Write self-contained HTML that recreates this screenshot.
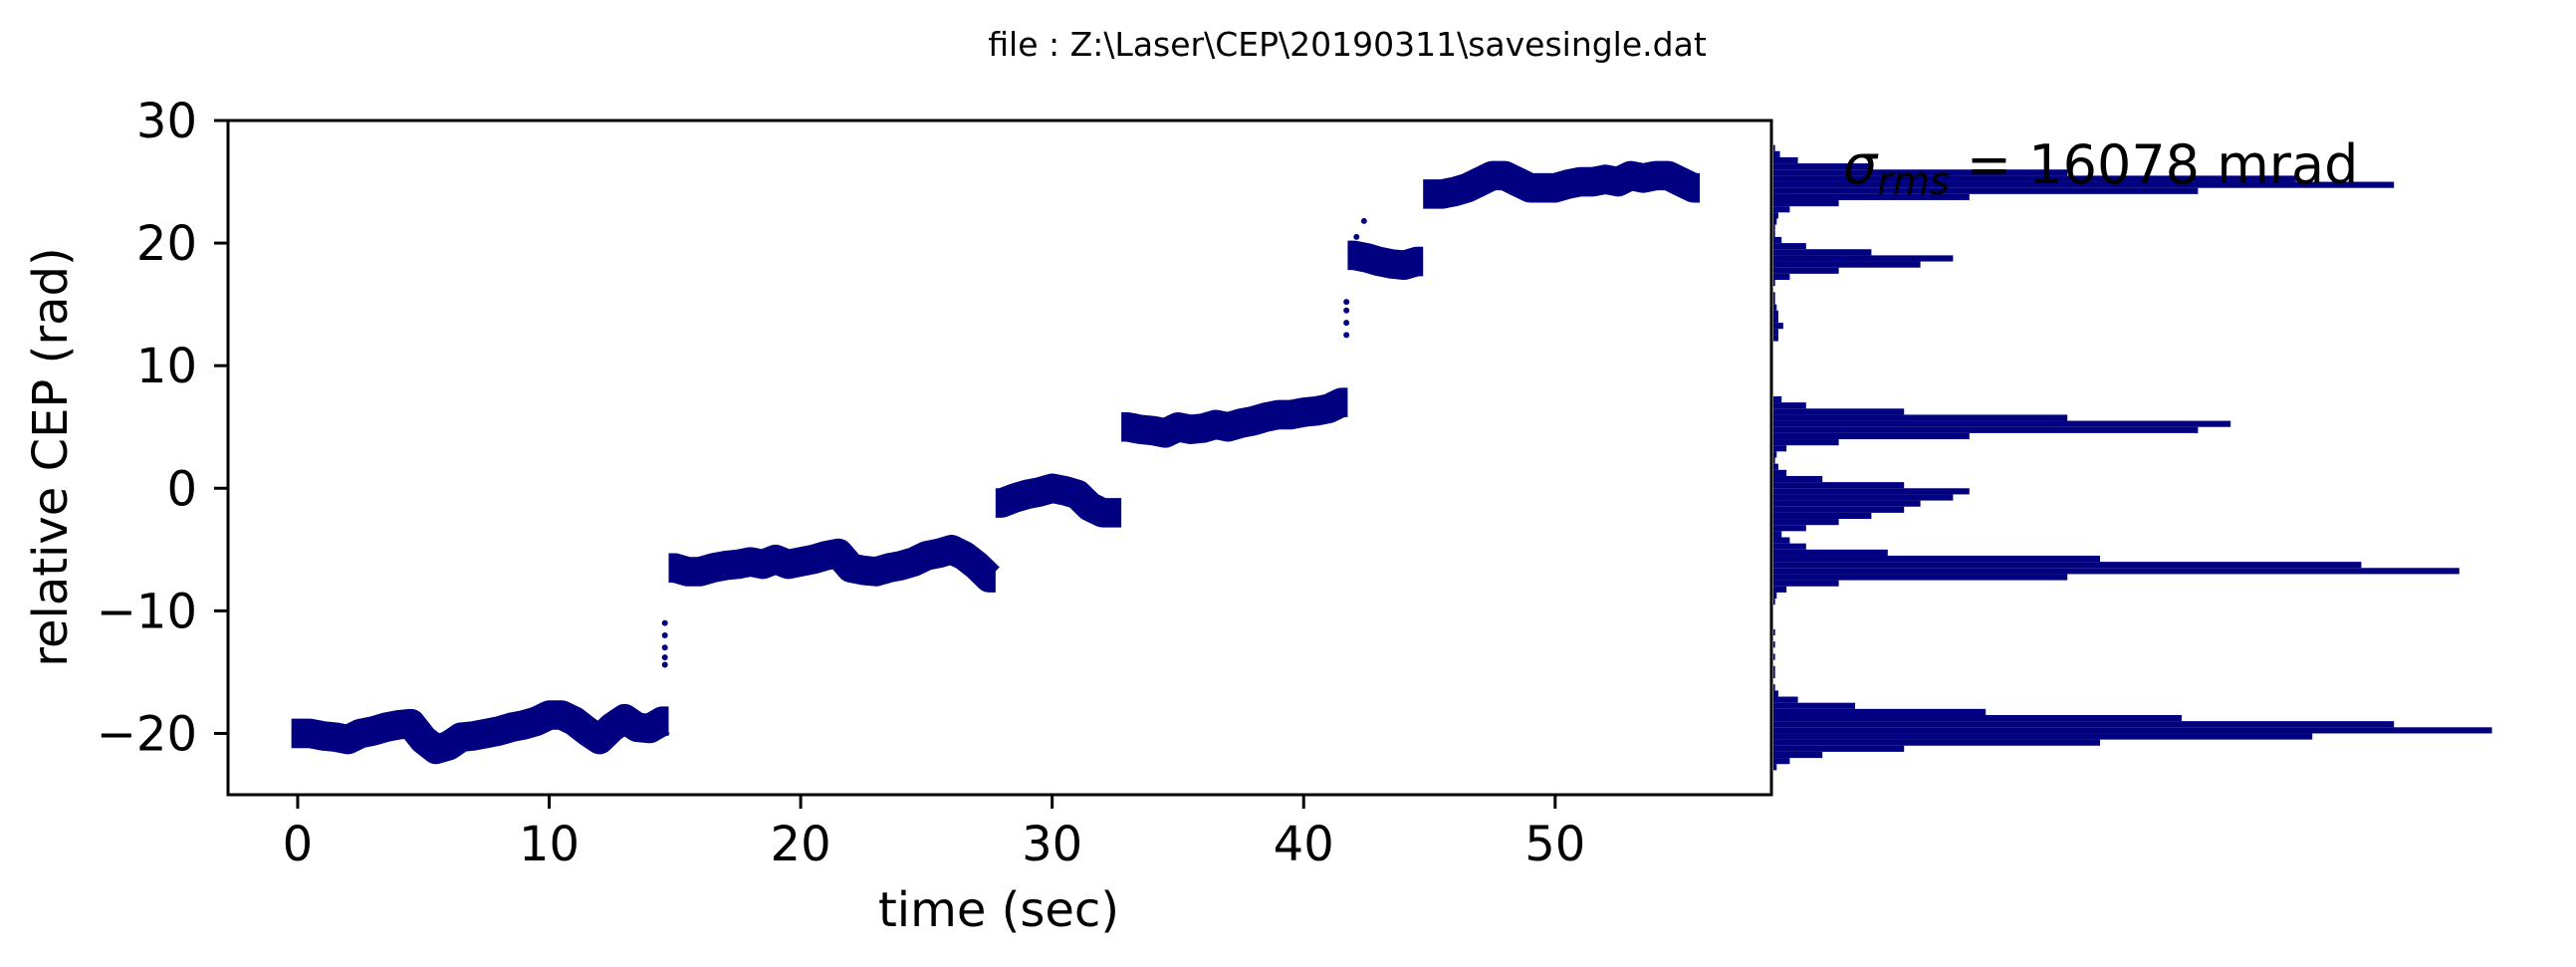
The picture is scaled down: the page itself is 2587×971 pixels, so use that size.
<!DOCTYPE html>
<html><head><meta charset="utf-8"><style>
html,body{margin:0;padding:0;background:#fff;}
svg{display:block;font-family:"DejaVu Sans","Liberation Sans",sans-serif;}
</style></head><body>
<svg id="chart" width="2587" height="971" viewBox="0 0 2587 971" xmlns="http://www.w3.org/2000/svg">
<rect width="2587" height="971" fill="#fff"/>
<text x="1353" y="56" font-size="33" text-anchor="middle">file : Z:\Laser\CEP\20190311\savesingle.dat</text>
<g id="marks"></g>
<g id="hist"></g>
<rect x="229" y="121" width="1550" height="677" fill="none" stroke="#000" stroke-width="3"/>
<g id="axes"></g>
<text x="1003" y="930" font-size="48" text-anchor="middle">time (sec)</text>
<text transform="translate(67,459) rotate(-90)" font-size="48" text-anchor="middle">relative CEP (rad)</text>
<text x="1851" y="184" font-size="54"><tspan font-style="italic">σ</tspan><tspan font-style="italic" font-size="38" dy="11">rms</tspan><tspan dy="-11"> = 16078 mrad</tspan></text>
</svg>
<script>
const sampleStep = 0.5;
const cepValues = [
-20,-20,-20.2,-20.3,-20.5,-20,-19.8,-19.5,-19.3,-19.2,-20.5,-21.3,-21,-20.3,-20.2,-20,-19.8,-19.5,-19.3,-19,-18.5,-18.5,-19,-19.8,-20.5,-19.5,-18.8,-19.5,-19.6,-19,
-6.5,-6.8,-6.8,-6.5,-6.3,-6.2,-6,-6.2,-5.8,-6.2,-6,-5.8,-5.5,-5.3,-6.5,-6.7,-6.8,-6.5,-6.3,-6,-5.5,-5.3,-5,-5.5,-6.3,-7.3,
-1.2,-0.8,-0.5,-0.3,0,-0.2,-0.5,-1.5,-2,-2,
5,4.8,4.7,4.5,5,4.8,4.9,5.2,5,5.3,5.5,5.8,6,6,6.2,6.3,6.5,7,
19,18.8,18.5,18.3,18.2,18.5,
24,24,24.2,24.5,25,25.5,25.5,25,24.5,24.5,24.5,24.8,25,25,25.2,25,25.5,25.3,25.5,25.5,25,24.5];
const cepSpread = 1.2;
const jumpTimes = [14.6,14.6,14.6,14.6,14.6,41.7,41.7,41.7,41.7,42.1,42.4];
const jumpValues = [-11,-12,-13,-13.8,-14.4,12.5,13.5,14.5,15.2,20.5,21.8];
const histStart = -23;
const histWidth = 0.5;
const histCounts = [
2,10,30,80,200,330,440,380,250,130,50,15,3,1,0,1,
1,0,1,0,1,0,1,0,0,0,0,1,2,8,40,180,420,360,200,70,20,10,5,
20,40,60,80,90,110,120,80,30,8,3,1,2,
8,40,120,260,280,180,80,20,5,0,0,0,0,0,0,0,0,0,
3,3,6,3,3,2,1,1,0,1,
10,40,90,110,60,20,5,1,1,2,3,
10,40,120,260,380,320,180,60,15,4,1];
const xTicks = [0,10,20,30,40,50];
const yTicks = [-20,-10,0,10,20,30];

const NS="http://www.w3.org/2000/svg";
const X0=229,X1=1779,Y0=121,Y1=798,XMIN=-2.77,XMAX=58.6,YMIN=-25,YMAX=30;
const HX0=1781,HMAXPX=738,HMAX=450;
function sx(t){return X0+(t-XMIN)/(XMAX-XMIN)*(X1-X0);}
function sy(v){return Y1-(v-YMIN)/(YMAX-YMIN)*(Y1-Y0);}
function hx(c){return HX0+c/HMAX*HMAXPX;}
function mk(tag,attrs,parent){const e=document.createElementNS(NS,tag);for(const k in attrs)e.setAttribute(k,attrs[k]);parent.appendChild(e);return e;}
const marks=document.getElementById('marks');
const bandPx=sy(-cepSpread)-sy(cepSpread);
let seg=[];
function flush(){
  if(!seg.length)return;
  const first=seg[0],last=seg[seg.length-1];
  const pts=[[sx(first[0]-0.25),sy(first[1])]].concat(seg.map(p=>[sx(p[0]),sy(p[1])])).concat([[sx(last[0]+0.25),sy(last[1])]]);
  const pl=mk('polyline',{points:pts.map(p=>p.join(',')).join(' '),fill:'none',stroke:'#000080','stroke-width':bandPx,'stroke-linejoin':'round','stroke-linecap':'butt'},marks);
  
  
  seg=[];
}
cepValues.forEach((v,i)=>{
  const t=i*sampleStep;
  if(seg.length && Math.abs(v-seg[seg.length-1][1])>3)flush();
  seg.push([t,v]);
});
flush();
jumpTimes.forEach((t,i)=>{
  const c=mk('circle',{cx:sx(t),cy:sy(jumpValues[i]),r:3,fill:'#000080'},marks);
  
  
});
const hist=document.getElementById('hist');
histCounts.forEach((c,i)=>{
  if(c<=0)return;
  const lo=histStart+i*histWidth,hi=lo+histWidth;
  const r=mk('rect',{x:HX0,y:sy(hi),width:hx(c)-HX0,height:Math.max(1,sy(lo)-sy(hi)),fill:'#000080'},hist);
  
  
});
const axes=document.getElementById('axes');
xTicks.forEach(t=>{
  const l=mk('line',{x1:sx(t),x2:sx(t),y1:Y1,y2:Y1+14,stroke:'#000','stroke-width':3},axes);
  
  
  const tx=mk('text',{x:sx(t),y:864,'font-size':48,'text-anchor':'middle'},axes);
  tx.textContent=String(t);
  
  
});
yTicks.forEach(v=>{
  const l=mk('line',{x1:X0-14,x2:X0,y1:sy(v),y2:sy(v),stroke:'#000','stroke-width':3},axes);
  
  
  const tx=mk('text',{x:198,y:sy(v)+17,'font-size':48,'text-anchor':'end'},axes);
  tx.textContent=v<0?'\u2212'+Math.abs(v):String(v);
  
  
});
</script>
</body></html>
